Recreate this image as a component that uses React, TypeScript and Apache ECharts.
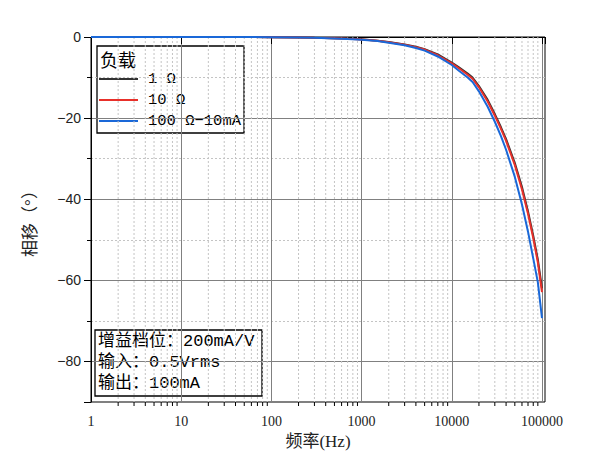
import { useEffect, useRef } from "react";
import * as echarts from "echarts";

// 频率点 (Hz)
const freqs = [
	1, 2, 5, 10, 20, 50, 100, 200, 300, 500, 700, 1000, 1500, 2000, 3000, 4000, 5000, 7000,
	10000, 12000, 15000, 17000, 20000, 25000, 30000, 35000, 40000, 50000, 60000, 70000, 80000,
	90000, 100000,
];

// 相移 (°)
const phase1 = [
	0, 0, 0, 0, 0, 0, -0.05, -0.1, -0.2, -0.3, -0.4, -0.55, -0.9, -1.25, -1.85, -2.4, -3.0, -4.3,
	-6.3, -7.5, -9.0, -10.0, -12.1, -15.5, -19.0, -22.2, -25.2, -31.1, -37.0, -43.0, -49.0, -54.9,
	-62.0,
];
const phase10 = [
	0, 0, 0, 0, 0, 0, -0.05, -0.1, -0.2, -0.3, -0.45, -0.6, -0.95, -1.3, -1.9, -2.5, -3.1, -4.5,
	-6.5, -7.7, -9.3, -10.3, -12.4, -15.9, -19.4, -22.6, -25.6, -31.6, -37.6, -43.6, -49.6, -55.6,
	-62.9,
];
const phase100 = [
	0, 0, 0, 0, 0, 0, -0.05, -0.1, -0.2, -0.35, -0.5, -0.65, -1.0, -1.4, -2.05, -2.7, -3.35, -4.8,
	-6.9, -8.3, -10.0, -11.1, -13.4, -17.2, -20.9, -24.4, -27.8, -34.5, -41.3, -48.0, -54.6, -60.5,
	-69.3,
];

const seriesNames = ["1 Ω", "10 Ω", "100 Ω−10mA"];
const seriesColors = ["#333333", "#e8302a", "#1a68d8"];
const legendTitle = "负载";
const noteLines = ["增益档位：200mA/V", "输入：0.5Vrms", "输出：100mA"];

const xTicks = [1, 10, 100, 1000, 10000, 100000];
const xMinor = [
	2, 3, 4, 5, 6, 7, 8, 9,
	20, 30, 40, 50, 60, 70, 80, 90,
	200, 300, 400, 500, 600, 700, 800, 900,
	2000, 3000, 4000, 5000, 6000, 7000, 8000, 9000,
	20000, 30000, 40000, 50000, 60000, 70000, 80000, 90000,
];
const yTicks = [0, -20, -40, -60, -80];
const xMin = 1;
const xMax = 108000;
const yMin = -90;
const yMax = 0;

const serifFont = "'Liberation Serif', 'Noto Sans CJK SC', serif";
const monoFont = "'Liberation Mono', 'Noto Sans CJK SC', monospace";

const App = () => {
	const chartRef = useRef<HTMLDivElement>(null);

	useEffect(() => {
		if (!chartRef.current) return;
		const chart = echarts.init(chartRef.current, null, { renderer: "svg" });

		const allPhases = [phase1, phase10, phase100];

		const lineSeries = allPhases.map((arr, i) => ({
			name: seriesNames[i],
			type: "line",
			data: freqs.map((f, j) => [f, arr[j]]),
			showSymbol: false,
			symbol: "none",
			clip: false,
			z: 3 + i,
			lineStyle: { color: seriesColors[i], width: 2 },
			itemStyle: { color: seriesColors[i] },
		}));

		// 对数轴次网格线与次刻度
		const minorSeries = {
			type: "custom",
			silent: true,
			z: 1,
			data: xMinor.map((v) => [v, 0]),
			encode: { x: 0, y: 1 },
			renderItem: (_params: any, api: any) => {
				const x = api.value(0);
				const top = api.coord([x, yMax]);
				const bot = api.coord([x, yMin]);
				return {
					type: "group",
					children: [
						{
							type: "line",
							shape: { x1: top[0], y1: top[1], x2: bot[0], y2: bot[1] },
							style: { stroke: "#c4c4c4", lineWidth: 1, lineDash: [2, 2] },
						},
						{
							type: "line",
							shape: { x1: bot[0], y1: bot[1], x2: bot[0], y2: bot[1] + 4 },
							style: { stroke: "#000", lineWidth: 1 },
						},
					],
				};
			},
		};

		const legendChildren: any[] = [
			{
				type: "rect",
				shape: { x: 97, y: 46, width: 147, height: 87 },
				style: { fill: "#fff", stroke: "#000", lineWidth: 1.3 },
			},
			{
				type: "text",
				x: 100,
				y: 61,
				style: { text: legendTitle, font: `18px ${serifFont}`, fill: "#000", verticalAlign: "middle" },
			},
		];
		seriesNames.forEach((name, i) => {
			const y = 79 + i * 21;
			legendChildren.push({
				type: "line",
				shape: { x1: 99, y1: y, x2: 138, y2: y },
				style: { stroke: seriesColors[i], lineWidth: 2 },
			});
			legendChildren.push({
				type: "text",
				x: 148,
				y: y,
				style: { text: name, font: `15.5px ${monoFont}`, fill: "#000", verticalAlign: "middle" },
			});
		});

		const noteChildren: any[] = [
			{
				type: "rect",
				shape: { x: 95, y: 330, width: 167, height: 66 },
				style: { fill: "#fff", stroke: "#000", lineWidth: 1.3 },
			},
		];
		noteLines.forEach((t, i) => {
			noteChildren.push({
				type: "text",
				x: 98,
				y: 341 + i * 21,
				style: { text: t, font: `17px ${monoFont}`, fill: "#000", verticalAlign: "middle" },
			});
		});

		const option = {
			animation: false,
			backgroundColor: "#fff",
			grid: {
				left: 91,
				top: 37,
				right: 50,
				bottom: 71,
				show: true,
				borderColor: "#000",
				borderWidth: 1,
			},
			xAxis: {
				type: "log",
				logBase: 10,
				min: xMin,
				max: xMax,
				name: "频率(Hz)",
				nameLocation: "middle",
				nameGap: 31,
				nameTextStyle: { fontFamily: serifFont, fontSize: 17, color: "#222" },
				axisLine: { show: true, lineStyle: { color: "#000", width: 1 } },
				axisTick: { show: true, inside: false, length: 7, lineStyle: { color: "#000" } },
				axisLabel: {
					color: "#222",
					fontFamily: "'Liberation Serif', serif",
					fontSize: 14,
					margin: 12,
					formatter: (v: number) => (xTicks.includes(v) ? String(v) : ""),
				},
				splitLine: { show: true, lineStyle: { color: "#808080", width: 1 } },
			},
			yAxis: {
				type: "value",
				min: yMin,
				max: yMax,
				name: "相移（°）",
				nameLocation: "middle",
				nameGap: 52,
				nameTextStyle: { fontFamily: serifFont, fontSize: 17, color: "#222" },
				axisLine: { show: true, lineStyle: { color: "#000", width: 1 } },
				axisTick: { show: true, inside: false, length: 7, lineStyle: { color: "#000" } },
				minorTick: { show: true, splitNumber: 2, length: 4, lineStyle: { color: "#000" } },
				axisLabel: {
					color: "#222",
					fontFamily: "'Liberation Sans', sans-serif",
					fontSize: 14,
					margin: 10,
					formatter: (v: number) => (yTicks.includes(v) ? String(v).replace("-", "−") : ""),
				},
				splitLine: { show: true, lineStyle: { color: "#808080", width: 1 } },
				minorSplitLine: { show: true, lineStyle: { color: "#c4c4c4", width: 1, type: [2, 2] } },
			},
			series: [minorSeries, ...lineSeries],
			graphic: [
				{ type: "group", z: 100, children: legendChildren },
				{ type: "group", z: 100, children: noteChildren },
			],
		};

		chart.setOption(option as any);

		return () => {
			chart.dispose();
		};
	}, []);

	return (
		<div
			ref={chartRef}
			style={{ position: "fixed", left: 0, top: 0, width: 595, height: 473 }}
		/>
	);
};

export default App;
